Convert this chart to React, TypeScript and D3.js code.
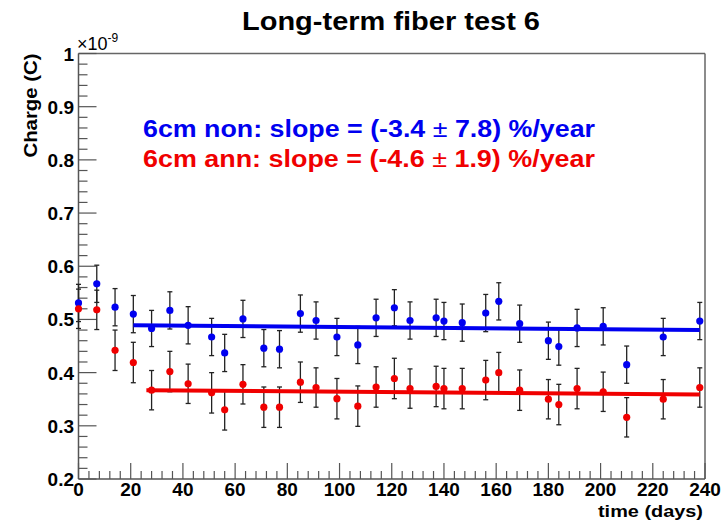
import React from "react";
import * as d3 from "d3";

// ---- data ----
const days = [0, 7, 14, 21, 28, 35, 42, 51, 56, 63, 71, 77, 85, 91, 99, 107, 114, 121, 127, 137, 140, 147, 156, 161, 169, 180, 184, 191, 201, 210, 224, 238];
const nonValues = [0.531, 0.567, 0.523, 0.510, 0.483, 0.517, 0.489, 0.467, 0.437, 0.501, 0.446, 0.444, 0.511, 0.498, 0.467, 0.452, 0.503, 0.522, 0.498, 0.503, 0.497, 0.494, 0.512, 0.534, 0.492, 0.460, 0.449, 0.484, 0.487, 0.415, 0.467, 0.497];
const nonErrors = [0.035, 0.035, 0.035, 0.035, 0.034, 0.035, 0.035, 0.035, 0.035, 0.035, 0.035, 0.035, 0.035, 0.035, 0.035, 0.035, 0.035, 0.034, 0.035, 0.035, 0.035, 0.035, 0.035, 0.035, 0.035, 0.035, 0.035, 0.035, 0.035, 0.035, 0.035, 0.035];
const annValues = [0.520, 0.518, 0.442, 0.419, 0.367, 0.402, 0.379, 0.362, 0.330, 0.378, 0.335, 0.335, 0.382, 0.372, 0.351, 0.337, 0.373, 0.389, 0.370, 0.374, 0.370, 0.370, 0.386, 0.400, 0.367, 0.350, 0.340, 0.370, 0.364, 0.316, 0.350, 0.372];
const annErrors = [0.037, 0.037, 0.038, 0.038, 0.037, 0.038, 0.037, 0.038, 0.038, 0.037, 0.038, 0.038, 0.038, 0.037, 0.038, 0.038, 0.038, 0.038, 0.037, 0.038, 0.038, 0.038, 0.037, 0.038, 0.038, 0.037, 0.038, 0.038, 0.037, 0.037, 0.037, 0.037];
const nonFitDays = [21, 238];
const nonFitValues = [0.489, 0.480];
const annFitDays = [26, 238];
const annFitValues = [0.367, 0.359];
const xTicks = [0, 20, 40, 60, 80, 100, 120, 140, 160, 180, 200, 220, 240];
const yTicks = [0.2, 0.3, 0.4, 0.5, 0.6, 0.7, 0.8, 0.9, 1.0];
const yTickLabels = ["0.2", "0.3", "0.4", "0.5", "0.6", "0.7", "0.8", "0.9", "1"];
const title = "Long-term fiber test 6";
const xTitle = "time (days)";
const yTitle = "Charge (C)";
const nonLabel = ["6cm non: slope = (-3.4 ", "\u00b1", " 7.8) %/year"];
const annLabel = ["6cm ann: slope = (-4.6 ", "\u00b1", " 1.9) %/year"];

const W = 728;
const H = 524;
const BLUE = "#0000f0";
const RED = "#f00000";
const AX = "#555";
const FONT = "'Liberation Sans', Arial, Helvetica, sans-serif";

export default function App() {
  const x = d3.scaleLinear().domain([0, 240]).range([78.5, 705]);
  const y = d3.scaleLinear().domain([0.2, 1.0]).range([479, 53.5]);
  const [x0, x1] = x.range();
  const [y0, y1] = y.range();

  const xMinor = d3.range(0, 241, 4).filter((v) => v % 20 !== 0);
  const yMinor = d3.range(0, 41).map((i) => 0.2 + i * 0.02).filter((v, i) => i % 5 !== 0);

  const series = [
    { vals: nonValues, errs: nonErrors, color: BLUE },
    { vals: annValues, errs: annErrors, color: RED },
  ];
  const fits = [
    { d: nonFitDays, v: nonFitValues, color: BLUE },
    { d: annFitDays, v: annFitValues, color: RED },
  ];
  const line = d3.line<[number, number]>().x((p) => x(p[0])).y((p) => y(p[1]));

  return (
    <svg width={W} height={H} style={{ position: "absolute", left: 0, top: 0, background: "#fff" }} fontFamily={FONT}>
      <rect x={0} y={0} width={W} height={H} fill="#fff" />
      {/* title */}
      <text x={391} y={30} textAnchor="middle" fontSize={25} fontWeight="bold" textLength={298} lengthAdjust="spacingAndGlyphs">{title}</text>

      {/* frame */}
      <line x1={x0} x2={x1} y1={y1} y2={y1} stroke="#666" strokeWidth={1.5} />
      <line x1={x1} x2={x1} y1={y1} y2={y0} stroke="#666" strokeWidth={1.5} />
      <line x1={x0} x2={x1} y1={y0} y2={y0} stroke={AX} strokeWidth={1.5} />
      <line x1={x0} x2={x0} y1={y0} y2={y1} stroke={AX} strokeWidth={1.5} />

      {/* x ticks */}
      {xTicks.map((t) => (
        <line key={"xt" + t} x1={x(t)} x2={x(t)} y1={y0} y2={y0 - 16} stroke={AX} strokeWidth={1.2} />
      ))}
      {xMinor.map((t) => (
        <line key={"xm" + t} x1={x(t)} x2={x(t)} y1={y0} y2={y0 - 8} stroke={AX} strokeWidth={1.2} />
      ))}
      {xTicks.map((t) => (
        <text key={"xl" + t} x={x(t)} y={496} textAnchor="middle" fontSize={19} fontWeight="bold">{t}</text>
      ))}
      <text x={703} y={517} textAnchor="end" fontSize={17} fontWeight="bold" textLength={105} lengthAdjust="spacingAndGlyphs">{xTitle}</text>

      {/* y ticks */}
      {yTicks.map((t) => (
        <line key={"yt" + t} x1={x0} x2={x0 + 18} y1={y(t)} y2={y(t)} stroke={AX} strokeWidth={1.2} />
      ))}
      {yMinor.map((t, i) => (
        <line key={"ym" + i} x1={x0} x2={x0 + 9} y1={y(t)} y2={y(t)} stroke={AX} strokeWidth={1.2} />
      ))}
      {yTicks.map((t, i) => (
        <text key={"yl" + t} x={74} y={y(t) + 7} textAnchor="end" fontSize={19} fontWeight="bold">{yTickLabels[i]}</text>
      ))}
      <text x={77} y={50} fontSize={18}>
        <tspan>{"\u00d7"}10</tspan>
        <tspan dy={-8} fontSize={12}>-9</tspan>
      </text>
      <text transform={`translate(37,${y1}) rotate(-90)`} textAnchor="end" fontSize={19} fontWeight="bold" textLength={104} lengthAdjust="spacingAndGlyphs">{yTitle}</text>

      {/* error bars */}
      {series.map((s, si) =>
        days.map((d, i) => {
          const cx = x(d);
          const top = y(s.vals[i] + s.errs[i]);
          const bot = y(s.vals[i] - s.errs[i]);
          return (
            <g key={"e" + si + "-" + i} stroke="#222" strokeWidth={1.3}>
              <line x1={cx} x2={cx} y1={top} y2={bot} />
              <line x1={cx - 2.5} x2={cx + 2.5} y1={top} y2={top} />
              <line x1={cx - 2.5} x2={cx + 2.5} y1={bot} y2={bot} />
            </g>
          );
        })
      )}
      {/* markers */}
      {series.map((s, si) =>
        days.map((d, i) => (
          <circle key={"m" + si + "-" + i} cx={x(d)} cy={y(s.vals[i])} r={3.6} fill={s.color} />
        ))
      )}
      {/* fits */}
      {fits.map((f, fi) => (
        <path key={"f" + fi} d={line(f.d.map((dd, i) => [dd, f.v[i]] as [number, number])) || ""} stroke={f.color} strokeWidth={4} fill="none" />
      ))}

      {/* legend texts */}
      <text x={143} y={137} fontSize={23} fontWeight="bold" fill={BLUE} textLength={452} lengthAdjust="spacingAndGlyphs">
        <tspan>{nonLabel[0]}</tspan>
        <tspan fontWeight="normal">{nonLabel[1]}</tspan>
        <tspan>{nonLabel[2]}</tspan>
      </text>
      <text x={143} y={167} fontSize={23} fontWeight="bold" fill={RED} textLength={452} lengthAdjust="spacingAndGlyphs">
        <tspan>{annLabel[0]}</tspan>
        <tspan fontWeight="normal">{annLabel[1]}</tspan>
        <tspan>{annLabel[2]}</tspan>
      </text>
    </svg>
  );
}
